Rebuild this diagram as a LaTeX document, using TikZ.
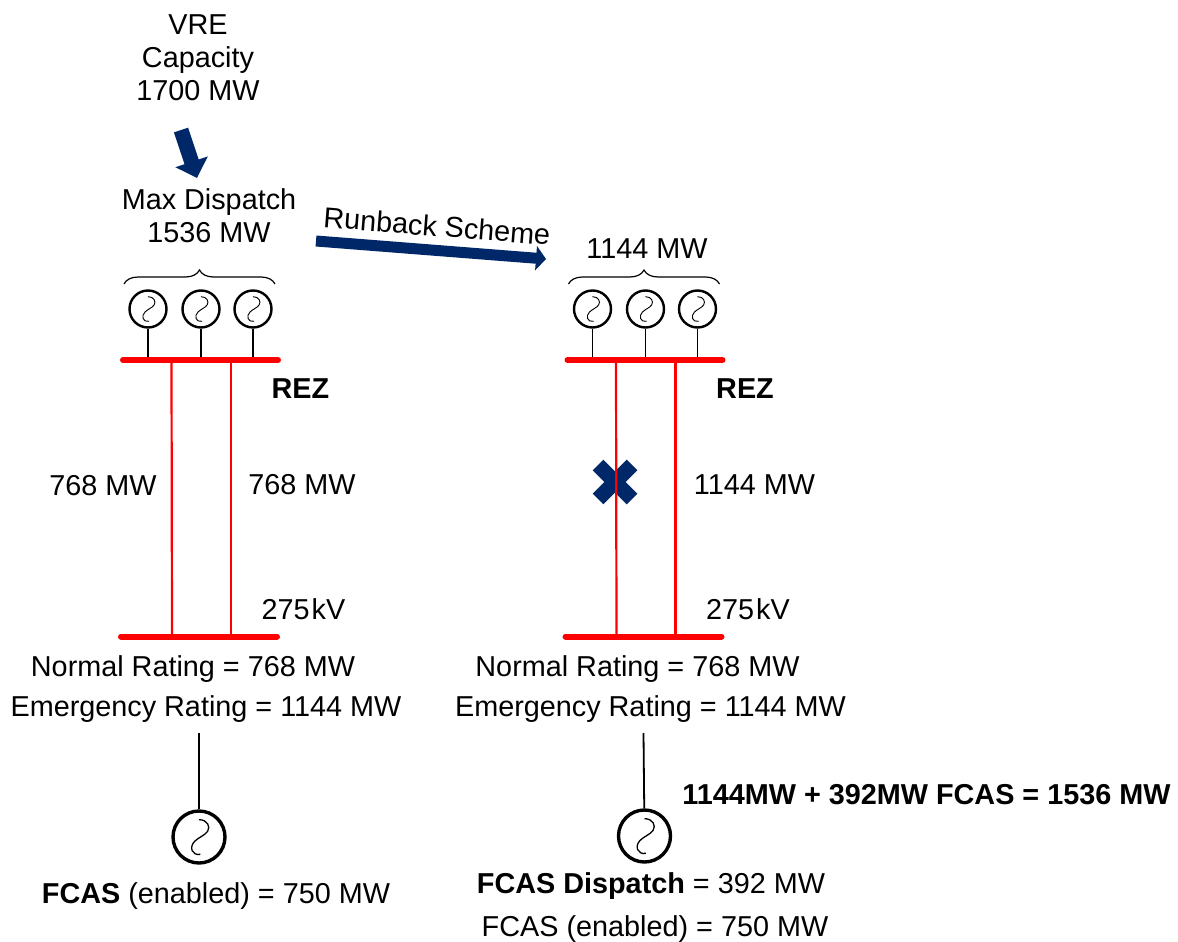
\documentclass[tikz,border=0pt]{standalone}
\usepackage{fontspec}
\setmainfont{Liberation Sans}
\usepackage{xcolor}
\usetikzlibrary{arrows.meta}
\usetikzlibrary{decorations,decorations.pathreplacing}
\definecolor{navyarrow}{HTML}{002767}
\tikzstyle{lbl}=[inner sep=0pt, align=center, font=\fontsize{28.8}{33}\selectfont]
\tikzstyle{boldlbl}=[lbl, font=\fontsize{28.8}{33}\selectfont\bfseries]
\tikzstyle{bus}=[red, line width=6pt, line cap=round]
\tikzstyle{feeder}=[red, line width=2.2pt]
\tikzstyle{stem}=[black, line width=1.8pt]
\tikzstyle{bigarrow}=[navyarrow, line width=15pt, -{Triangle[width=33pt,length=17pt]}]
\tikzstyle{slimarrow}=[navyarrow, line width=11pt, -{Triangle[width=24pt,length=10pt]}]
\tikzstyle{groupbrace}=[black, line width=1.2pt, decorate, decoration={brace, amplitude=14pt}]
\tikzset{gen/.style={circle, draw=black, line width=#1*0.13pt, inner sep=0pt, minimum size=2*#1 pt,
	path picture={\draw[line width=#1*0.05pt, x=#1/18*1pt, y=-#1/18*1pt, shift={(path picture bounding box.center)}]
		(0,-12) .. controls (6,-12) and (8,-7) .. (6,-4) .. controls (4,-1) and (0,0) .. (-3,3)
		.. controls (-7,7) and (-5,13) .. (1,12);}}}
\begin{document}
\begin{tikzpicture}[x=1pt,y=-1pt]
\useasboundingbox (0,0) rectangle (1178,942);
\node[lbl] (vre) at (198,58) {VRE\\Capacity\\1700 MW};
\node[lbl] (maxdisp) at (209,216) {Max Dispatch\\1536 MW};
\coordinate (vretail) at (181,130);
\coordinate (vretip) at (197,178);
\draw[bigarrow] (vretail) -- (vretip);
\coordinate (runtail) at (316,241);
\coordinate (runtip) at (546,259);
\draw[slimarrow] (runtail) -- (runtip);
\node[lbl, rotate=-4.5] (runback) at (437,226) {Runback Scheme};
\node[lbl] (runmw) at (647,249) {1144 MW};
% both REZ columns
\foreach \x/\n in {0/a,444.5/b} {
	\coordinate (bl\n) at (123+\x,360);
	\coordinate (br\n) at (278+\x,360);
	\coordinate (cl\n) at (121+\x,636.5);
	\coordinate (cr\n) at (277+\x,636.5);
	\coordinate (bracel\n) at (124+\x,284);
	\coordinate (bracer\n) at (275+\x,284);
	\draw[groupbrace] (bracel\n) -- (bracer\n);
	\foreach \g/\gx in {1/148,2/201,3/253} {
		\node[gen=18.5] (g\n\g) at (\gx+\x,309) {};
		\draw[stem] (g\n\g) -- (g\n\g |- bl\n);
	}
	\coordinate (fa\n) at (171.5+\x,360);
	\coordinate (fb\n) at (231+\x,360);
	\coordinate (ha\n) at (172+\x,636);
	\coordinate (hb\n) at (231+\x,636);
	\node[boldlbl] (rez\n) at (300.5+\x,388.5) {REZ};
	\node[lbl] (kv\n) at (303.5+\x,609) {275\kern2pt kV};
	\node[lbl] (nr\n) at (193+\x,669) {Normal Rating = 768 MW};
	\node[lbl] (er\n) at (206+\x,709) {Emergency Rating = 1144 MW};
}
% outage mark sits under the feeder
\coordinate (xa) at (598,465);
\coordinate (xb) at (632,499);
\coordinate (xc) at (632,465);
\coordinate (xd) at (598,499);
\draw[navyarrow, line width=15pt] (xa) -- (xb);
\draw[navyarrow, line width=15pt] (xc) -- (xd);
\foreach \n in {a,b} {
	\draw[bus] (bl\n) -- (br\n);
	\draw[bus] (cl\n) -- (cr\n);
	\draw[feeder] (fa\n) -- (ha\n);
	\draw[feeder] (fb\n) -- (hb\n);
}
\node[lbl] (fa) at (103,486) {768 MW};
\node[lbl] (fb) at (302,485) {768 MW};
\node[lbl] (fc) at (754.5,485) {1144 MW};
% FCAS units
\node[gen=26] (ga) at (199,837) {};
\node[gen=26] (gb) at (644.5,836) {};
\coordinate (sa) at (199,733);
\coordinate (sb) at (643.5,733);
\draw[stem] (sa) -- (ga);
\draw[stem] (sb) -- (gb);
\node[boldlbl] (sum) at (926.5,795) {1144MW + 392MW FCAS = 1536 MW};
\node[lbl] (fcasa) at (216,896) {\textbf{FCAS} (enabled) = 750 MW};
\node[lbl] (fcasd) at (651,886) {\textbf{FCAS Dispatch} = 392 MW};
\node[lbl] (fcasb) at (655,929) {FCAS (enabled) = 750 MW};
\end{tikzpicture}
\end{document}
